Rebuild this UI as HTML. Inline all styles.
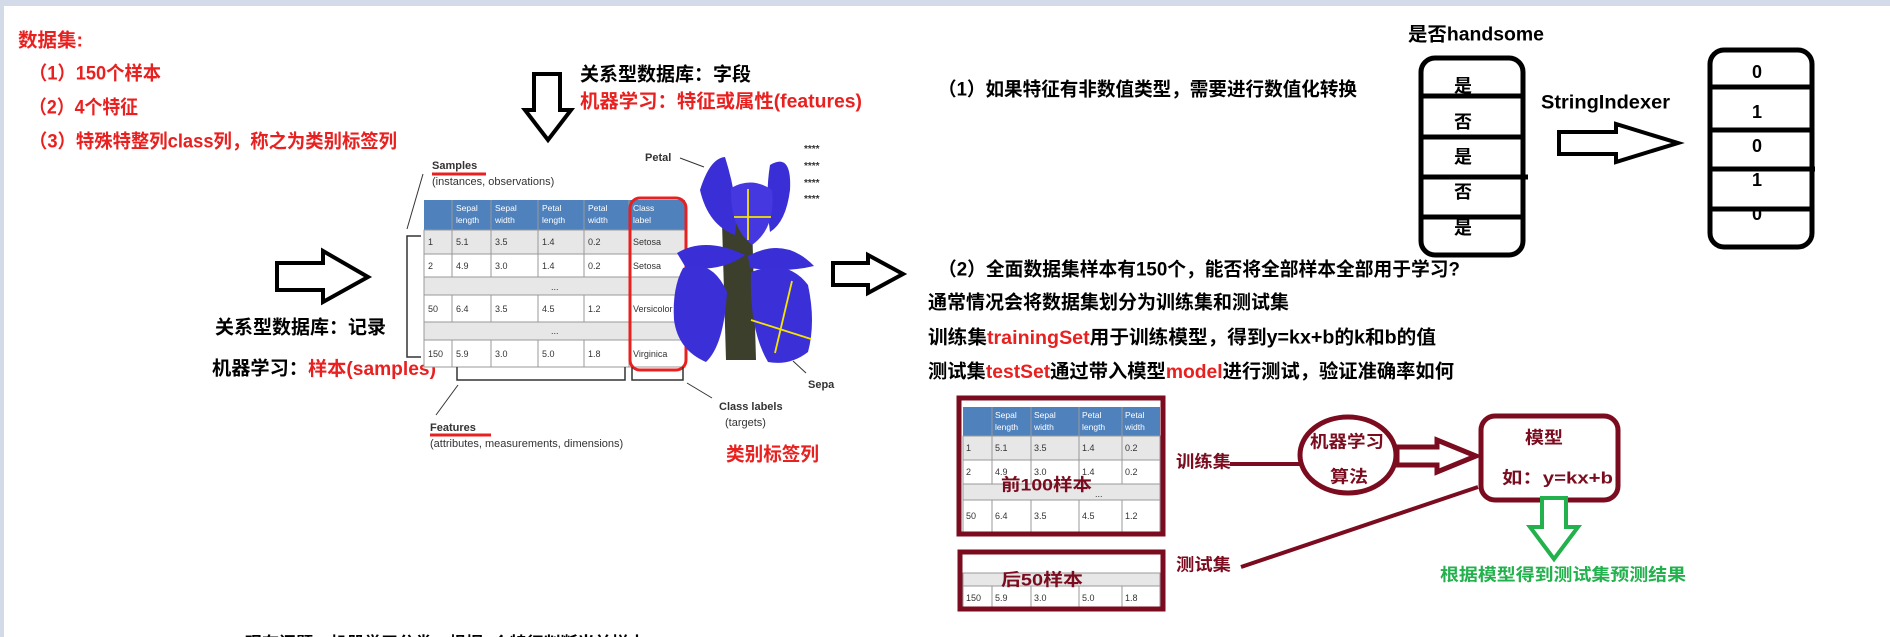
<!DOCTYPE html>
<html><head><meta charset="utf-8"><style>
html,body{margin:0;padding:0;background:#fff;}
svg{display:block;}
text{font-family:"Liberation Sans","Noto Sans CJK SC",sans-serif;font-weight:bold;}
.s,.s text{font-family:"Liberation Sans",sans-serif;font-weight:normal;fill:#333;}
.b{font-weight:bold !important;}
</style></head><body>
<svg width="1890" height="637" viewBox="0 0 1890 637" xmlns="http://www.w3.org/2000/svg">
<rect x="0" y="0" width="1890" height="6" fill="#d3dbe8"/>
<rect x="0" y="0" width="4" height="637" fill="#d3dbe8"/>

<g fill="#e8201f" font-size="19" dominant-baseline="central">
<text x="18" y="41" textLength="65" lengthAdjust="spacingAndGlyphs">数据集:</text>
<text x="29" y="74" textLength="132" lengthAdjust="spacingAndGlyphs">（1）150个样本</text>
<text x="29" y="108" textLength="109" lengthAdjust="spacingAndGlyphs">（2）4个特征</text>
<text x="29" y="142" textLength="368" lengthAdjust="spacingAndGlyphs">（3）特殊特整列class列，称之为类别标签列</text>
</g>

<path d="M534,74 L560,74 L560,110 L571,110 L548,140 L525,110 L534,110 Z" fill="#fff" stroke="#000" stroke-width="4"/>
<g font-size="19" dominant-baseline="central">
<text x="580" y="75" fill="#000" textLength="171" lengthAdjust="spacingAndGlyphs">关系型数据库：字段</text>
<text x="580" y="102" fill="#e8201f" textLength="282" lengthAdjust="spacingAndGlyphs">机器学习：特征或属性(features)</text>
</g>

<path d="M277,263 L323,263 L323,251 L368,277 L323,302 L323,290 L277,290 Z" fill="#fff" stroke="#000" stroke-width="4"/>
<g font-size="19" dominant-baseline="central">
<text x="215" y="328" fill="#000" textLength="171" lengthAdjust="spacingAndGlyphs">关系型数据库：记录</text>
<text x="212" y="369" fill="#000" textLength="224" lengthAdjust="spacingAndGlyphs">机器学习：<tspan fill="#e8201f">样本(samples)</tspan></text>
<text x="726" y="455" fill="#e8201f" textLength="93" lengthAdjust="spacingAndGlyphs">类别标签列</text>
</g>

<text class="s b" x="432" y="166" font-size="11" dominant-baseline="central">Samples</text>
<line x1="432" y1="174" x2="486" y2="174" stroke="#e8201f" stroke-width="3"/>
<text class="s" x="432" y="182" font-size="11" dominant-baseline="central">(instances, observations)</text>
<line x1="423" y1="174" x2="407" y2="229" stroke="#333" stroke-width="1"/>
<path d="M421,236 L407,236 L407,357 L421,357" fill="none" stroke="#333" stroke-width="1.5"/>
<rect x="424" y="200" width="261" height="30" fill="#4f81bd"/>
<g fill="#e7e7e7" stroke="#999" stroke-width="1">
<rect x="424" y="230" width="261" height="24"/>
<rect x="424" y="254" width="261" height="23" fill="#fff"/>
<rect x="424" y="277" width="261" height="18"/>
<rect x="424" y="295" width="261" height="27" fill="#fff"/>
<rect x="424" y="322" width="261" height="18"/>
<rect x="424" y="340" width="261" height="27" fill="#fff"/>
</g>
<g stroke="#999" stroke-width="1">
<line x1="452" y1="200" x2="452" y2="277"/><line x1="491" y1="200" x2="491" y2="277"/><line x1="538" y1="200" x2="538" y2="277"/><line x1="584" y1="200" x2="584" y2="277"/><line x1="629" y1="200" x2="629" y2="277"/>
<line x1="452" y1="295" x2="452" y2="322"/><line x1="491" y1="295" x2="491" y2="322"/><line x1="538" y1="295" x2="538" y2="322"/><line x1="584" y1="295" x2="584" y2="322"/><line x1="629" y1="295" x2="629" y2="322"/>
<line x1="452" y1="340" x2="452" y2="367"/><line x1="491" y1="340" x2="491" y2="367"/><line x1="538" y1="340" x2="538" y2="367"/><line x1="584" y1="340" x2="584" y2="367"/><line x1="629" y1="340" x2="629" y2="367"/>
</g>
<g font-size="8.5" fill="#fff" style="font-family:'Liberation Sans',sans-serif">
<text x="456" y="211" style="font-weight:normal">Sepal</text><text x="456" y="223" style="font-weight:normal">length</text>
<text x="495" y="211" style="font-weight:normal">Sepal</text><text x="495" y="223" style="font-weight:normal">width</text>
<text x="542" y="211" style="font-weight:normal">Petal</text><text x="542" y="223" style="font-weight:normal">length</text>
<text x="588" y="211" style="font-weight:normal">Petal</text><text x="588" y="223" style="font-weight:normal">width</text>
<text x="633" y="211" style="font-weight:normal">Class</text><text x="633" y="223" style="font-weight:normal">label</text>
</g>
<g class="s" font-size="9">
<text x="428" y="245">1</text><text x="456" y="245">5.1</text><text x="495" y="245">3.5</text><text x="542" y="245">1.4</text><text x="588" y="245">0.2</text><text x="633" y="245">Setosa</text>
<text x="428" y="269">2</text><text x="456" y="269">4.9</text><text x="495" y="269">3.0</text><text x="542" y="269">1.4</text><text x="588" y="269">0.2</text><text x="633" y="269">Setosa</text>
<text x="551" y="290">...</text>
<text x="428" y="312">50</text><text x="456" y="312">6.4</text><text x="495" y="312">3.5</text><text x="542" y="312">4.5</text><text x="588" y="312">1.2</text><text x="633" y="312">Versicolor</text>
<text x="551" y="334">...</text>
<text x="428" y="357">150</text><text x="456" y="357">5.9</text><text x="495" y="357">3.0</text><text x="542" y="357">5.0</text><text x="588" y="357">1.8</text><text x="633" y="357">Virginica</text>
</g>
<rect x="630" y="198" width="56" height="172" rx="10" fill="none" stroke="#e8201f" stroke-width="3"/>
<path d="M457,367 L457,380 L625,380 L625,367 M632,367 L632,380 L683,380 L683,367" fill="none" stroke="#333" stroke-width="1.5"/>
<line x1="458" y1="385" x2="436" y2="415" stroke="#333" stroke-width="1"/>
<text class="s b" x="430" y="428" font-size="11" dominant-baseline="central">Features</text>
<line x1="430" y1="435" x2="491" y2="435" stroke="#e8201f" stroke-width="3"/>
<text class="s" x="430" y="444" font-size="11" dominant-baseline="central">(attributes, measurements, dimensions)</text>
<line x1="687" y1="383" x2="712" y2="398" stroke="#333" stroke-width="1"/>
<text class="s b" x="719" y="407" font-size="11" dominant-baseline="central">Class labels</text>
<text class="s" x="725" y="423" font-size="11" dominant-baseline="central">(targets)</text>
<text class="s b" x="645" y="158" font-size="11" dominant-baseline="central">Petal</text>
<line x1="680" y1="158" x2="704" y2="167" stroke="#333" stroke-width="1"/>
<text class="s b" x="808" y="385" font-size="11" dominant-baseline="central">Sepa</text>
<line x1="793" y1="361" x2="806" y2="373" stroke="#333" stroke-width="1"/>
<g class="s" font-size="10">
<text class="b" x="804" y="152">****</text><text class="b" x="804" y="169">****</text><text class="b" x="804" y="186">****</text><text class="b" x="804" y="202">****</text>
</g>
<!-- flower -->
<g>
<path d="M722,222 L752,222 L756,360 L726,360 Z" fill="#3b3f2c"/>
<path d="M700,190 Q710,158 725,157 Q740,205 735,235 Q708,225 700,190 Z" fill="#3a2fd6"/>
<path d="M770,165 Q792,152 790,190 Q786,222 770,232 Q765,195 770,165 Z" fill="#3a2fd6"/>
<path d="M731,188 Q752,176 772,190 Q776,228 752,245 Q730,228 731,188 Z" fill="#4538e0"/>
<path d="M677,253 Q705,236 745,255 Q722,272 686,268 Z" fill="#3a2fd6"/>
<path d="M748,256 Q785,236 814,266 Q785,273 750,268 Z" fill="#3a2fd6"/>
<path d="M683,268 Q712,258 727,292 Q724,345 706,362 Q678,350 674,320 Q672,288 683,268 Z" fill="#3b30d8"/>
<path d="M751,272 Q788,258 808,285 Q816,322 808,352 Q790,366 768,362 Q749,330 751,272 Z" fill="#3b30d8"/>
<g stroke="#f5e400" stroke-width="1.8">
<line x1="748" y1="189" x2="748" y2="240"/><line x1="734" y1="217" x2="771" y2="217"/>
<line x1="775" y1="353" x2="792" y2="281"/><line x1="751" y1="320" x2="811" y2="339"/>
</g>
</g>

<path d="M833,263 L868,263 L868,255 L903,274 L868,293 L868,285 L833,285 Z" fill="#fff" stroke="#000" stroke-width="4"/>

<g font-size="19" dominant-baseline="central" fill="#000">
<text x="938" y="90" textLength="419" lengthAdjust="spacingAndGlyphs">（1）如果特征有非数值类型，需要进行数值化转换</text>
<text x="1408" y="35" textLength="136" lengthAdjust="spacingAndGlyphs">是否handsome</text>
<text x="1541" y="103" textLength="129" lengthAdjust="spacingAndGlyphs">StringIndexer</text>
<text x="938" y="270" textLength="522" lengthAdjust="spacingAndGlyphs">（2）全面数据集样本有150个，能否将全部样本全部用于学习?</text>
<text x="928" y="303" textLength="361" lengthAdjust="spacingAndGlyphs">通常情况会将数据集划分为训练集和测试集</text>
<text x="928" y="338" textLength="508" lengthAdjust="spacingAndGlyphs">训练集<tspan fill="#e8201f">trainingSet</tspan>用于训练模型，得到y=kx+b的k和b的值</text>
<text x="928" y="372" textLength="526" lengthAdjust="spacingAndGlyphs">测试集<tspan fill="#e8201f">testSet</tspan>通过带入模型<tspan fill="#e8201f">model</tspan>进行测试，验证准确率如何</text>
</g>

<rect x="1421" y="58" width="102" height="197" rx="14" fill="none" stroke="#000" stroke-width="5"/>
<g stroke="#000" stroke-width="5">
<line x1="1421" y1="96" x2="1523" y2="96"/><line x1="1421" y1="137" x2="1523" y2="137"/><line x1="1421" y1="177" x2="1528" y2="177"/><line x1="1421" y1="217" x2="1523" y2="217"/>
</g>
<g font-size="18" text-anchor="middle" dominant-baseline="central" fill="#000">
<text x="1463" y="86">是</text><text x="1463" y="122">否</text><text x="1463" y="157">是</text><text x="1463" y="192">否</text><text x="1463" y="228">是</text>
</g>
<path d="M1559,132 L1616,132 L1616,124 L1678,143 L1616,162 L1616,154 L1559,154 Z" fill="#fff" stroke="#000" stroke-width="4"/>
<rect x="1710" y="50" width="102" height="197" rx="14" fill="none" stroke="#000" stroke-width="5"/>
<g stroke="#000" stroke-width="5">
<line x1="1710" y1="87" x2="1812" y2="87"/><line x1="1710" y1="130" x2="1812" y2="130"/><line x1="1710" y1="169" x2="1815" y2="169"/><line x1="1710" y1="209" x2="1812" y2="209"/>
</g>
<g font-size="18" text-anchor="middle" dominant-baseline="central" fill="#000">
<text x="1757" y="72">0</text><text x="1757" y="112">1</text><text x="1757" y="146">0</text><text x="1757" y="180">1</text><text x="1757" y="214">0</text>
</g>

<rect x="963" y="407" width="197" height="29" fill="#4f81bd"/>
<g stroke="#999" stroke-width="1">
<rect x="963" y="436" width="197" height="24" fill="#e7e7e7"/>
<rect x="963" y="460" width="197" height="24" fill="#fff"/>
<rect x="963" y="484" width="197" height="16" fill="#e7e7e7"/>
<rect x="963" y="500" width="197" height="32" fill="#fff"/>
<line x1="992" y1="407" x2="992" y2="484"/><line x1="1031" y1="407" x2="1031" y2="484"/><line x1="1079" y1="407" x2="1079" y2="484"/><line x1="1122" y1="407" x2="1122" y2="484"/>
<line x1="992" y1="500" x2="992" y2="532"/><line x1="1031" y1="500" x2="1031" y2="532"/><line x1="1079" y1="500" x2="1079" y2="532"/><line x1="1122" y1="500" x2="1122" y2="532"/>
</g>
<g font-size="8.5" fill="#fff" style="font-family:'Liberation Sans',sans-serif">
<text x="995" y="418" style="font-weight:normal">Sepal</text><text x="995" y="430" style="font-weight:normal">length</text>
<text x="1034" y="418" style="font-weight:normal">Sepal</text><text x="1034" y="430" style="font-weight:normal">width</text>
<text x="1082" y="418" style="font-weight:normal">Petal</text><text x="1082" y="430" style="font-weight:normal">length</text>
<text x="1125" y="418" style="font-weight:normal">Petal</text><text x="1125" y="430" style="font-weight:normal">width</text>
</g>
<g class="s" font-size="9">
<text x="966" y="451">1</text><text x="995" y="451">5.1</text><text x="1034" y="451">3.5</text><text x="1082" y="451">1.4</text><text x="1125" y="451">0.2</text>
<text x="966" y="475">2</text><text x="995" y="475">4.9</text><text x="1034" y="475">3.0</text><text x="1082" y="475">1.4</text><text x="1125" y="475">0.2</text>
<text x="1095" y="497">...</text>
<text x="966" y="519">50</text><text x="995" y="519">6.4</text><text x="1034" y="519">3.5</text><text x="1082" y="519">4.5</text><text x="1125" y="519">1.2</text>
</g>
<rect x="959" y="398" width="204" height="136" fill="none" stroke="#7b0c1f" stroke-width="5"/>

<g stroke="#999" stroke-width="1">
<rect x="963" y="573" width="197" height="13" fill="#e7e7e7"/>
<rect x="963" y="586" width="197" height="22" fill="#fff"/>
<line x1="992" y1="586" x2="992" y2="608"/><line x1="1031" y1="586" x2="1031" y2="608"/><line x1="1079" y1="586" x2="1079" y2="608"/><line x1="1122" y1="586" x2="1122" y2="608"/>
</g>
<g class="s" font-size="9">
<text x="966" y="601">150</text><text x="995" y="601">5.9</text><text x="1034" y="601">3.0</text><text x="1082" y="601">5.0</text><text x="1125" y="601">1.8</text>
</g>
<rect x="960" y="552" width="203" height="57" fill="none" stroke="#7b0c1f" stroke-width="5"/>

<g font-size="17" dominant-baseline="central" fill="#7b0c1f">
<text x="1001" y="485" textLength="91" lengthAdjust="spacingAndGlyphs">前100样本</text>
<text x="1001" y="580" textLength="82" lengthAdjust="spacingAndGlyphs">后50样本</text>
<text x="1176" y="462" textLength="55" lengthAdjust="spacingAndGlyphs">训练集</text>
<text x="1176" y="565" textLength="55" lengthAdjust="spacingAndGlyphs">测试集</text>
<text x="1310" y="442" textLength="74" lengthAdjust="spacingAndGlyphs">机器学习</text>
<text x="1330" y="477" textLength="38" lengthAdjust="spacingAndGlyphs">算法</text>
<text x="1525" y="438" textLength="38" lengthAdjust="spacingAndGlyphs">模型</text>
<text x="1502" y="478" textLength="111" lengthAdjust="spacingAndGlyphs">如：y=kx+b</text>
</g>
<line x1="1230" y1="464" x2="1303" y2="464" stroke="#7b0c1f" stroke-width="4"/>
<ellipse cx="1348" cy="455" rx="48" ry="38" fill="none" stroke="#7b0c1f" stroke-width="5"/>
<path d="M1397,447 L1437,447 L1437,440 L1476,456 L1437,472 L1437,465 L1397,465 Z" fill="#fff" stroke="#7b0c1f" stroke-width="5"/>
<rect x="1481" y="416" width="137" height="84" rx="14" fill="none" stroke="#7b0c1f" stroke-width="5"/>
<line x1="1241" y1="567" x2="1478" y2="487" stroke="#7b0c1f" stroke-width="4"/>
<path d="M1542,498 L1566,498 L1566,527 L1578,527 L1554,559 L1530,527 L1542,527 Z" fill="#fff" stroke="#22b14c" stroke-width="4"/>
<text x="1440" y="575" font-size="17" dominant-baseline="central" fill="#22b14c" textLength="246" lengthAdjust="spacingAndGlyphs">根据模型得到测试集预测结果</text>

<text x="245" y="649" font-size="17" fill="#000">现在问题：机器学习分类，根据4个特征判断当前样本</text>
</svg>
</body></html>
